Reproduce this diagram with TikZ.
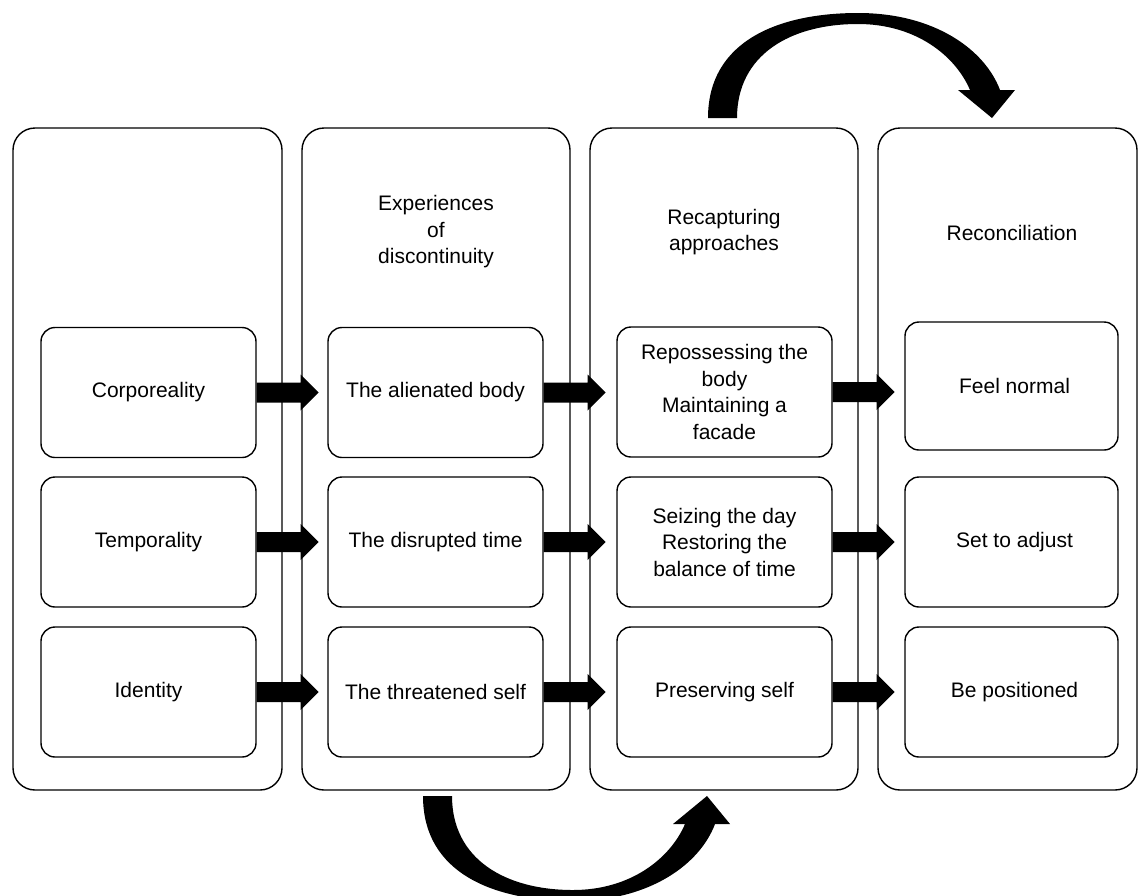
\documentclass[tikz,border=0pt]{standalone}
\usepackage{fontspec}
\setmainfont{Liberation Sans}
\usetikzlibrary{calc}
\newcommand\blockarrow[1]{%
  \fill ($(#1.east)+(0,-10)$) -- ++(44,0) -- ++(0,-8) -- ++(18,18) -- ++(-18,18) -- ++(0,-8) -- ++(-44,0) -- cycle;}
\begin{document}
\begin{tikzpicture}[x=1pt,y=-1pt,
  col/.style={draw, line width=1.4pt, rounded corners=22pt, minimum height=662pt, inner sep=0pt},
  box/.style={draw, line width=1.4pt, rounded corners=14pt, minimum width=215pt, minimum height=130pt,
    align=center, inner sep=0pt, font=\fontsize{21}{26.5}\selectfont},
  lbl/.style={align=center, inner sep=0pt, font=\fontsize{21}{26.5}\selectfont}]
\useasboundingbox (0,0) rectangle (1139,895);
\clip (0,0) rectangle (1139,895);

% columns
\node[col, minimum width=269pt] (c1) at (147.5,459) {};
\node[col, minimum width=268pt] (c2) at (436,459) {};
\node[col, minimum width=268pt] (c3) at (724,459) {};
\node[col, minimum width=259pt] (c4) at (1007.5,459) {};

% headers
\node[lbl] (h2) at (436,232) {Experiences\\of\\discontinuity};
\node[lbl] (h3) at (724,232) {Recapturing\\approaches};
\node[lbl] (h4) at (1012,233) {Reconciliation};

% column 1
\node[box] (a1) at (148.5,392.5) {Corporeality};
\node[box] (a2) at (148.5,542) {Temporality};
\node[box] (a3) at (148.5,692) {Identity};
% column 2
\node[box] (b1) at (435.5,392.5) {The alienated body};
\node[box] (b2) at (435.5,542) {The disrupted time};
\node[box] (b3) at (435.5,692) {The threatened self};
% column 3
\node[box] (d1) at (724.5,392) {Repossessing the\\body\\Maintaining a\\facade};
\node[box] (d2) at (724.5,542) {Seizing the day\\Restoring the\\balance of time};
\node[box] (d3) at (724.5,692) {Preserving self};
% column 4
\node[box, minimum width=213pt, minimum height=128pt] (e1) at (1011.5,386) {\hspace*{6pt}Feel normal};
\node[box, minimum width=213pt] (e2) at (1011.5,542) {\hspace*{6pt}Set to adjust};
\node[box, minimum width=213pt] (e3) at (1011.5,692) {\hspace*{6pt}Be positioned};

% block arrows
\blockarrow{a1}\blockarrow{a2}\blockarrow{a3}
\blockarrow{b1}\blockarrow{b2}\blockarrow{b3}
\blockarrow{d1}\blockarrow{d2}\blockarrow{d3}

% top curved arrow
\fill (708,118) .. controls (708,40) and (780,13) .. (858,13)
  .. controls (935,13) and (985,50) .. (1000,90)
  -- (1015,90) -- (992,118) -- (958,90) -- (970,90)
  .. controls (955,55) and (915,24) .. (858,24)
  .. controls (790,24) and (737,55) .. (737,118) -- cycle;

% bottom curved arrow
\fill (423,796) .. controls (423,874) and (495,901) .. (573,901)
  .. controls (650,901) and (700,864) .. (715,824)
  -- (730,824) -- (707,796) -- (673,824) -- (685,824)
  .. controls (670,859) and (630,890) .. (573,890)
  .. controls (505,890) and (452,859) .. (452,796) -- cycle;
\end{tikzpicture}
\end{document}
